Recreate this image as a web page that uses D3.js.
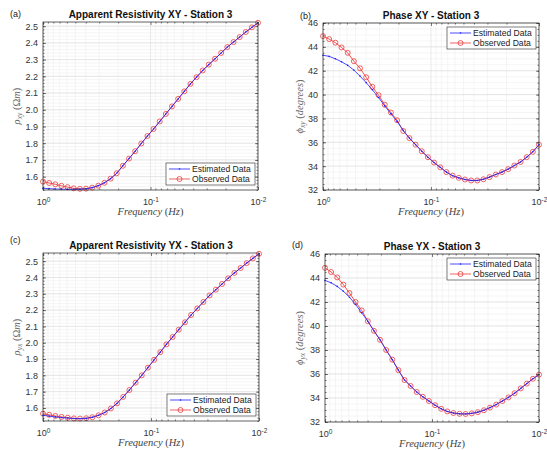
<!DOCTYPE html>
<html>
<head>
<meta charset="utf-8">
<script src="https://cdn.jsdelivr.net/npm/d3@7"></script>
<style>
  body { margin: 0; background: #fff; }
  svg { display: block; }
</style>
</head>
<body>
<div id="chart"></div>
<script>
// frequencies (Hz), high to low
var freq = [1, 0.8766, 0.7686, 0.6738, 0.5907, 0.5179, 0.4540, 0.3981, 0.3490, 0.3060,
  0.2682, 0.2352, 0.2062, 0.1807, 0.1585, 0.1389, 0.1218, 0.1068, 0.0936, 0.0821,
  0.0720, 0.0631, 0.0553, 0.0485, 0.0425, 0.0373, 0.0327, 0.0287, 0.0251, 0.0220,
  0.0193, 0.0169, 0.0148, 0.0130, 0.0114, 0.01];

var rhoXYObs = [1.570, 1.562, 1.554, 1.545, 1.537, 1.530, 1.527, 1.528, 1.534, 1.546,
  1.563, 1.588, 1.620, 1.665, 1.708, 1.752, 1.798, 1.843, 1.885, 1.930,
  1.975, 2.020, 2.065, 2.110, 2.155, 2.195, 2.235, 2.270, 2.305, 2.340,
  2.375, 2.405, 2.435, 2.465, 2.493, 2.520];
var rhoXYEst = [1.530, 1.528, 1.526, 1.525, 1.524, 1.524, 1.525, 1.527, 1.534, 1.546,
  1.563, 1.588, 1.620, 1.665, 1.708, 1.752, 1.798, 1.843, 1.885, 1.930,
  1.975, 2.020, 2.065, 2.110, 2.155, 2.195, 2.235, 2.270, 2.305, 2.340,
  2.375, 2.405, 2.435, 2.465, 2.493, 2.520];

var phiXYObs = [44.9, 44.65, 44.35, 43.95, 43.5, 42.8, 42.2, 41.45, 40.65, 39.95,
  39.15, 38.5, 37.85, 36.95, 36.35, 35.8, 35.25, 34.75, 34.3, 33.9,
  33.5, 33.2, 33.02, 32.88, 32.8, 32.8, 32.9, 33.08, 33.3, 33.5,
  33.75, 34.05, 34.35, 34.75, 35.2, 35.8];
var phiXYEst = [43.3, 43.2, 43.0, 42.75, 42.45, 42.05, 41.55, 41.0, 40.4, 39.75,
  39.05, 38.4, 37.75, 37.0, 36.35, 35.8, 35.25, 34.75, 34.3, 33.9,
  33.5, 33.2, 33.02, 32.88, 32.8, 32.8, 32.9, 33.08, 33.3, 33.5,
  33.75, 34.05, 34.35, 34.75, 35.2, 35.8];

var rhoYXObs = [1.565, 1.558, 1.551, 1.545, 1.540, 1.536, 1.535, 1.537, 1.543, 1.555,
  1.572, 1.597, 1.628, 1.668, 1.710, 1.755, 1.800, 1.847, 1.895, 1.942,
  1.990, 2.035, 2.080, 2.125, 2.170, 2.210, 2.250, 2.290, 2.325, 2.360,
  2.395, 2.428, 2.458, 2.488, 2.517, 2.545];
var rhoYXEst = [1.555, 1.550, 1.545, 1.541, 1.538, 1.535, 1.534, 1.536, 1.543, 1.555,
  1.572, 1.597, 1.628, 1.668, 1.710, 1.755, 1.800, 1.847, 1.895, 1.942,
  1.990, 2.035, 2.080, 2.125, 2.170, 2.210, 2.250, 2.290, 2.325, 2.360,
  2.395, 2.428, 2.458, 2.488, 2.517, 2.545];

var phiYXObs = [44.85, 44.5, 44.05, 43.45, 42.75, 42.0, 41.3, 40.4, 39.6, 38.85,
  38.0, 37.2, 36.32, 35.5, 35.0, 34.5, 34.1, 33.75, 33.4, 33.1,
  32.88, 32.75, 32.68, 32.67, 32.72, 32.82, 32.98, 33.2, 33.45, 33.75,
  34.05, 34.4, 34.8, 35.2, 35.6, 35.95];
var phiYXEst = [43.8, 43.6, 43.3, 42.9, 42.4, 41.8, 41.1, 40.4, 39.6, 38.85,
  38.0, 37.2, 36.32, 35.5, 35.0, 34.5, 34.1, 33.75, 33.4, 33.1,
  32.88, 32.75, 32.68, 32.67, 32.72, 32.82, 32.98, 33.2, 33.45, 33.75,
  34.05, 34.4, 34.8, 35.2, 35.6, 35.95];

var rhoTicks = [1.6, 1.7, 1.8, 1.9, 2, 2.1, 2.2, 2.3, 2.4, 2.5];
var phiTicks = [32, 34, 36, 38, 40, 42, 44, 46];
var freqTicks = [1, 0.1, 0.01];
var freqTickExps = ['0', '-1', '-2'];
var legendLabels = ['Estimated Data', 'Observed Data'];

var width = 547;
var height = 450;

var estColor = '#1f1fff';
var obsColor = '#ee3b3b';
var sans = '"Liberation Sans", Arial, Helvetica, sans-serif';
var serif = '"Liberation Serif", "Times New Roman", serif';

var svg = d3.select('#chart')
  .append('svg')
  .attr('width', width)
  .attr('height', height);

var panels = [
  { tag: '(a)', tagX: 10, tagY: 17, title: 'Apparent Resistivity XY - Station 3', kind: 'rho', sub: 'xy',
    obs: rhoXYObs, est: rhoXYEst, ylim: [1.52, 2.525], ticks: rhoTicks, minor: 0.02,
    l: 43, r: 258, t: 22, b: 190, legend: 'se', labelX: 20 },
  { tag: '(b)', tagX: 300, tagY: 19, title: 'Phase XY - Station 3', kind: 'phi', sub: 'xy',
    obs: phiXYObs, est: phiXYEst, ylim: [32, 46], ticks: phiTicks, minor: 0.5,
    l: 323, r: 539, t: 23, b: 190, legend: 'ne', labelX: 303 },
  { tag: '(c)', tagX: 10, tagY: 243, title: 'Apparent Resistivity YX - Station 3', kind: 'rho', sub: 'yx',
    obs: rhoYXObs, est: rhoYXEst, ylim: [1.52, 2.55], ticks: rhoTicks, minor: 0.02,
    l: 43, r: 259, t: 253, b: 421, legend: 'se', labelX: 20 },
  { tag: '(d)', tagX: 292, tagY: 248, title: 'Phase YX - Station 3', kind: 'phi', sub: 'yx',
    obs: phiYXObs, est: phiYXEst, ylim: [32, 46], ticks: phiTicks, minor: 0.5,
    l: 325, r: 539, t: 254, b: 422, legend: 'ne', labelX: 303 }
];

panels.forEach(drawPanel);

function drawPanel(p) {
  var g = svg.append('g');

  var x = d3.scaleLog().domain([1, 0.01]).range([p.l, p.r]);
  var y = d3.scaleLinear().domain(p.ylim).range([p.b, p.t]);

  var xMinor = [];
  [0.01, 0.1].forEach(function(d) {
    for (var k = 2; k <= 9; k++) xMinor.push(d * k);
  });
  var yMinor = [];
  var start = Math.ceil(p.ylim[0] / p.minor - 1e-6);
  for (var k = start; k * p.minor <= p.ylim[1] + 1e-9; k++) yMinor.push(+(k * p.minor).toFixed(4));

  // grid
  var grid = g.append('g');
  grid.append('g').selectAll('line').data(xMinor).enter().append('line')
    .attr('x1', function(d) { return x(d); }).attr('x2', function(d) { return x(d); })
    .attr('y1', p.t).attr('y2', p.b)
    .attr('stroke', '#efefef').attr('stroke-width', 0.6);
  grid.append('g').selectAll('line').data(yMinor).enter().append('line')
    .attr('y1', function(d) { return y(d); }).attr('y2', function(d) { return y(d); })
    .attr('x1', p.l).attr('x2', p.r)
    .attr('stroke', '#efefef').attr('stroke-width', 0.6);
  grid.append('g').selectAll('line').data(freqTicks).enter().append('line')
    .attr('x1', function(d) { return x(d); }).attr('x2', function(d) { return x(d); })
    .attr('y1', p.t).attr('y2', p.b)
    .attr('stroke', '#dcdcdc').attr('stroke-width', 0.6);
  grid.append('g').selectAll('line').data(p.ticks).enter().append('line')
    .attr('y1', function(d) { return y(d); }).attr('y2', function(d) { return y(d); })
    .attr('x1', p.l).attr('x2', p.r)
    .attr('stroke', '#dcdcdc').attr('stroke-width', 0.6);

  // data
  var line = d3.line()
    .x(function(d, i) { return x(freq[i]); })
    .y(function(d) { return y(d); });

  g.append('path').datum(p.obs)
    .attr('d', line)
    .attr('fill', 'none').attr('stroke', obsColor).attr('stroke-width', 0.9);
  g.append('g').selectAll('circle').data(p.obs).enter().append('circle')
    .attr('cx', function(d, i) { return x(freq[i]); })
    .attr('cy', function(d) { return y(d); })
    .attr('r', 2.5)
    .attr('fill', 'none').attr('stroke', obsColor).attr('stroke-width', 0.8);

  g.append('path').datum(p.est)
    .attr('d', line)
    .attr('fill', 'none').attr('stroke', estColor).attr('stroke-width', 0.8);
  g.append('g').selectAll('circle').data(p.est).enter().append('circle')
    .attr('cx', function(d, i) { return x(freq[i]); })
    .attr('cy', function(d) { return y(d); })
    .attr('r', 0.8)
    .attr('fill', estColor);

  // axes
  var axisColor = '#262626';
  var yAxis = g.append('g')
    .attr('transform', 'translate(' + p.l + ',0)')
    .call(d3.axisLeft(y).tickValues(p.ticks).tickSize(-3).tickPadding(5));
  var yAxisR = g.append('g')
    .attr('transform', 'translate(' + p.r + ',0)')
    .call(d3.axisRight(y).tickValues(p.ticks).tickSize(-3).tickFormat(''));
  var yMin = g.append('g')
    .attr('transform', 'translate(' + p.l + ',0)')
    .call(d3.axisLeft(y).tickValues(yMinor).tickSize(-1.5).tickFormat(''));
  var yMinR = g.append('g')
    .attr('transform', 'translate(' + p.r + ',0)')
    .call(d3.axisRight(y).tickValues(yMinor).tickSize(-1.5).tickFormat(''));

  var xAxis = g.append('g')
    .attr('transform', 'translate(0,' + p.b + ')')
    .call(d3.axisBottom(x).tickValues(freqTicks).tickSize(-3).tickPadding(7).tickFormat(''));
  var xAxisT = g.append('g')
    .attr('transform', 'translate(0,' + p.t + ')')
    .call(d3.axisTop(x).tickValues(freqTicks).tickSize(-3).tickFormat(''));
  var xMin = g.append('g')
    .attr('transform', 'translate(0,' + p.b + ')')
    .call(d3.axisBottom(x).tickValues(xMinor).tickSize(-1.5).tickFormat(''));
  var xMinT = g.append('g')
    .attr('transform', 'translate(0,' + p.t + ')')
    .call(d3.axisTop(x).tickValues(xMinor).tickSize(-1.5).tickFormat(''));

  [yAxis, yAxisR, yMin, yMinR, xAxis, xAxisT, xMin, xMinT].forEach(function(a) {
    a.select('.domain').remove();
    a.selectAll('line').attr('stroke', axisColor).attr('stroke-width', 0.6);
    a.selectAll('text').attr('font-family', sans).attr('font-size', 9).attr('fill', '#333');
  });

  // power-of-ten labels
  xAxis.selectAll('.tick text').each(function(d, i) {
    var t = d3.select(this).text(null).attr('dy', '0.9em');
    t.append('tspan').text('10');
    t.append('tspan').attr('dy', '-0.45em').attr('font-size', 6.5).text(freqTickExps[i]);
  });

  g.append('rect')
    .attr('x', p.l).attr('y', p.t)
    .attr('width', p.r - p.l).attr('height', p.b - p.t)
    .attr('fill', 'none').attr('stroke', axisColor).attr('stroke-width', 0.7);

  // title and tag
  g.append('text')
    .attr('x', (p.l + p.r) / 2).attr('y', p.t - 4)
    .attr('text-anchor', 'middle')
    .attr('font-family', sans).attr('font-size', 10).attr('font-weight', 'bold')
    .attr('fill', '#111')
    .text(p.title);
  g.append('text')
    .attr('x', p.tagX).attr('y', p.tagY)
    .attr('font-family', sans).attr('font-size', 9).attr('fill', '#222')
    .text(p.tag);

  // x label
  var xl = g.append('text')
    .attr('x', (p.l + p.r) / 2).attr('y', p.b + 25)
    .attr('text-anchor', 'middle')
    .attr('font-family', serif).attr('font-size', 10.5).attr('fill', '#444');
  xl.append('tspan').attr('font-style', 'italic').text('Frequency');
  xl.append('tspan').text(' (');
  xl.append('tspan').attr('font-style', 'italic').text('Hz');
  xl.append('tspan').text(')');

  // y label
  var yl = g.append('text')
    .attr('transform', 'translate(' + p.labelX + ',' + (p.t + p.b) / 2 + ') rotate(-90)')
    .attr('text-anchor', 'middle')
    .attr('font-family', serif).attr('font-size', 10.5).attr('fill', '#666');
  if (p.kind === 'rho') {
    yl.append('tspan').attr('font-style', 'italic').text('\u03C1');
    yl.append('tspan').attr('font-style', 'italic').attr('font-size', 7.5).attr('dy', 2).text(p.sub);
    yl.append('tspan').attr('dy', -2).text(' (\u03A9');
    yl.append('tspan').attr('font-style', 'italic').text('m');
    yl.append('tspan').text(')');
  } else {
    yl.append('tspan').attr('font-style', 'italic').text('\u03D5');
    yl.append('tspan').attr('font-style', 'italic').attr('font-size', 7.5).attr('dy', 2).text(p.sub);
    yl.append('tspan').attr('dy', -2).text(' (');
    yl.append('tspan').attr('font-style', 'italic').text('degrees');
    yl.append('tspan').text(')');
  }

  // legend
  var lw = 89, lh = 22;
  var lx = p.r - lw - 3;
  var ly = p.legend === 'se' ? p.b - lh - 5 : p.t + 4;
  var leg = g.append('g').attr('transform', 'translate(' + lx + ',' + ly + ')');
  leg.append('rect')
    .attr('width', lw).attr('height', lh)
    .attr('fill', '#fff').attr('stroke', axisColor).attr('stroke-width', 0.6);
  legendLabels.forEach(function(label, i) {
    var ry = 6 + i * 10;
    var c = i === 0 ? estColor : obsColor;
    leg.append('line')
      .attr('x1', 3).attr('x2', 24).attr('y1', ry).attr('y2', ry)
      .attr('stroke', c).attr('stroke-width', 0.8);
    if (i === 0) {
      leg.append('circle').attr('cx', 13.5).attr('cy', ry).attr('r', 0.8).attr('fill', c);
    } else {
      leg.append('circle').attr('cx', 13.5).attr('cy', ry).attr('r', 2.5)
        .attr('fill', 'none').attr('stroke', c).attr('stroke-width', 0.8);
    }
    leg.append('text')
      .attr('x', 26).attr('y', ry).attr('dy', '0.35em')
      .attr('font-family', sans).attr('font-size', 8.6).attr('fill', '#222')
      .text(label);
  });
}
</script>
</body>
</html>
